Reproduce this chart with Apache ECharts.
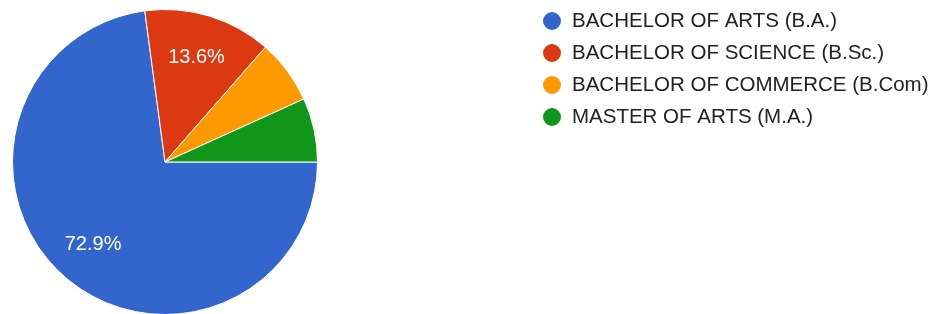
<!DOCTYPE html>
<html>
<head>
<meta charset="utf-8">
<script src="https://cdn.jsdelivr.net/npm/echarts@6/dist/echarts.min.js"></script>
<style>
  html, body { margin: 0; padding: 0; background: #fff; }
  #chart { width: 935px; height: 314px; }
</style>
</head>
<body>
<div id="chart"></div>
<script>
// responses per course
const courses = ['BACHELOR OF ARTS (B.A.)', 'BACHELOR OF SCIENCE (B.Sc.)', 'BACHELOR OF COMMERCE (B.Com)', 'MASTER OF ARTS (M.A.)'];
const counts = [43, 8, 4, 4];
const colors = ['#3366cc', '#dc3912', '#ff9900', '#109618'];

const total = counts.reduce((a, b) => a + b, 0);
const pieData = courses.map((name, i) => ({ name, value: counts[i] }));
const font = '"Liberation Sans", Arial, sans-serif';

const chart = echarts.init(document.getElementById('chart'));
chart.setOption({
  animation: false,
  color: colors,
  legend: {
    orient: 'vertical',
    left: 536,
    top: 5,
    icon: 'circle',
    itemWidth: 30,
    itemHeight: 20,
    itemGap: 10,
    data: courses,
    textStyle: { fontFamily: font, fontSize: 20.5, color: '#222' }
  },
  series: [
    {
      type: 'pie',
      center: [165, 162],
      radius: [0, 152.5],
      startAngle: 0,
      clockwise: true,
      data: pieData,
      itemStyle: { borderColor: '#fff', borderWidth: 1 },
      label: { show: false },
      labelLine: { show: false },
      emphasis: { disabled: true }
    },
    {
      // label-only ring so the percentages sit further out like the original
      type: 'pie',
      center: [165, 162],
      radius: [60, 152.5],
      startAngle: 0,
      clockwise: true,
      minShowLabelAngle: 30,
      silent: true,
      data: pieData,
      itemStyle: { color: 'transparent', borderWidth: 0 },
      label: {
        show: true,
        position: 'inside',
        // plain rounding, no sum-to-100 adjustment
        formatter: p => (p.value / total * 100).toFixed(1) + '%',
        fontFamily: font,
        fontSize: 20,
        color: '#fff'
      },
      labelLine: { show: false },
      emphasis: { disabled: true }
    }
  ]
});
</script>
</body>
</html>
